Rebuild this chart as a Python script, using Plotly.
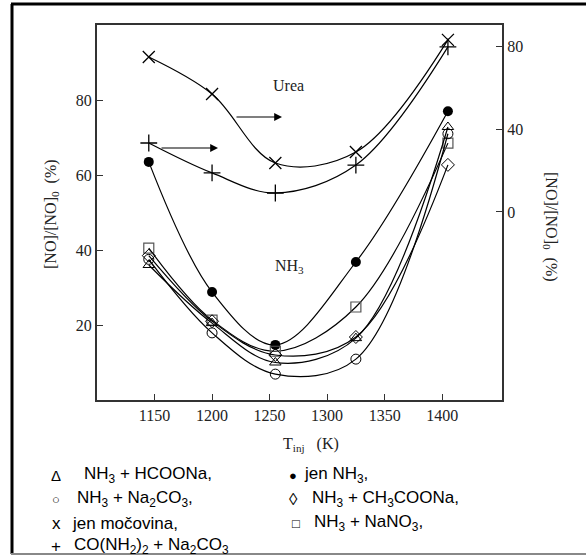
import plotly.graph_objects as go

# ---------------- data ----------------
T_inj = [1145, 1200, 1255, 1325, 1405]

# left axis series  [NO]/[NO]0 (%)
nh3_only = [63.5, 28.8, 14.7, 36.8, 77.0]        # filled circle
nh3_hcoona = [36.0, 20.5, 10.0, 16.5, 72.8]      # triangle
nh3_na2co3 = [37.5, 17.9, 6.9, 10.9, 71.0]       # open circle
nh3_ch3coona = [38.5, 21.0, 12.0, 16.8, 62.7]    # diamond
nh3_nano3 = [40.5, 21.3, 13.0, 24.8, 68.5]       # square

# right axis series
urea_only = [75.0, 57.1, 23.7, 29.0, 83.3]       # x
urea_na2co3 = [33.4, 18.9, 9.2, 22.7, 79.9]      # +

x_ticks = [1150, 1200, 1250, 1300, 1350, 1400]
y_left_ticks = [20, 40, 60, 80]
y_right_ticks = [0, 40, 80]

W, H = 586, 556
L, R, TOP, BOT = 97, 502, 25, 400


def xp(px):
    return (px - L) / (R - L)


def yp(py):
    return (BOT - py) / (BOT - TOP)


fig = go.Figure()

LW = 1.2
series = [
    (nh3_only, "y", dict(symbol="circle", size=10, color="black")),
    (nh3_nano3, "y", dict(symbol="square-open", size=10, color="#555", line=dict(width=1.2, color="#555"))),
    (nh3_ch3coona, "y", dict(symbol="diamond-open", size=10, color="black", line=dict(width=1, color="black"))),
    (nh3_hcoona, "y", dict(symbol="triangle-up-open", size=10, color="black", line=dict(width=1, color="black"))),
    (nh3_na2co3, "y", dict(symbol="circle-open", size=10, color="black", line=dict(width=1, color="black"))),
    (urea_only, "y2", dict(symbol="x-thin-open", size=12, color="black", line=dict(width=1.3, color="black"))),
    (urea_na2co3, "y2", dict(symbol="cross-thin-open", size=12, color="black", line=dict(width=1.3, color="black"))),
]
for vals, ax, mk in series:
    fig.add_trace(go.Scatter(
        x=T_inj, y=vals, yaxis=ax, mode="lines+markers",
        line=dict(color="black", width=LW, shape="spline", smoothing=1.0),
        marker=mk, showlegend=False, cliponaxis=False,
    ))

tickfont = dict(family="Liberation Serif", size=16, color="#222")
fig.update_layout(
    width=W, height=H,
    margin=dict(l=L, r=W - R, t=TOP, b=H - BOT),
    paper_bgcolor="white", plot_bgcolor="white",
    xaxis=dict(range=[1100, 1452], tickvals=x_ticks, ticks="inside", ticklen=6,
               tickcolor="#333", showline=True, linecolor="#333", linewidth=2,
               mirror=True, showgrid=False, zeroline=False, tickfont=tickfont),
    yaxis=dict(range=[0, 100], tickvals=y_left_ticks, ticks="inside", ticklen=6,
               tickcolor="#333", showline=True, linecolor="#333", linewidth=2,
               showgrid=False, zeroline=False, tickfont=tickfont),
    yaxis2=dict(range=[-91, 90.5], tickvals=y_right_ticks, ticks="inside", ticklen=6,
                tickcolor="#333", showline=True, linecolor="#333", linewidth=2,
                overlaying="y", side="right", showgrid=False, zeroline=False,
                tickfont=tickfont),
)

ann = []
serif = dict(family="Liberation Serif", size=16, color="#222")
# axis titles
ann.append(dict(x=xp(51), y=yp(214), xref="paper", yref="paper", showarrow=False,
                xanchor="center", yanchor="middle",
                text="[NO]/[NO]<sub>0</sub>  (%)", textangle=-90, font=serif))
ann.append(dict(x=xp(550), y=yp(227), xref="paper", yref="paper", showarrow=False,
                xanchor="center", yanchor="middle",
                text="[NO]/[NO]<sub>0</sub>  (%)", textangle=90, font=serif))
ann.append(dict(x=xp(311), y=yp(444), xref="paper", yref="paper", showarrow=False,
                xanchor="center", yanchor="middle",
                text="T<sub>inj</sub>   (K)", font=serif))
# inner labels
ann.append(dict(x=xp(288), y=yp(85), xref="paper", yref="paper", showarrow=False,
                xanchor="center", yanchor="middle", text="Urea", font=serif))
ann.append(dict(x=xp(289), y=yp(266), xref="paper", yref="paper", showarrow=False,
                xanchor="center", yanchor="middle", text="NH<sub>3</sub>", font=serif))
# arrows
for (x0, x1, yy) in [(235, 282, 117), (160, 218, 148)]:
    ann.append(dict(x=xp(x1), y=yp(yy), xref="paper", yref="paper",
                    ax=x0 - x1, ay=0, axref="pixel", ayref="pixel",
                    showarrow=True, arrowhead=2, arrowsize=1.3, arrowwidth=1.2,
                    arrowcolor="black", text=""))

# legend text block
sans = dict(family="Liberation Sans", size=17, color="black")
legend_items = [
    (56, 82, 475, "\u0394", "NH<sub>3</sub> + HCOONa,"),
    (56, 75, 499, "\u25cb", "NH<sub>3</sub> + Na<sub>2</sub>CO<sub>3</sub>,"),
    (56, 70, 523, "x", "jen močovina,"),
    (56, 72, 546, "+", "CO(NH<sub>2</sub>)<sub>2</sub> + Na<sub>2</sub>CO<sub>3</sub>"),
    (293, 302, 475, "\u25cf", "jen NH<sub>3</sub>,"),
    (293, 310, 499, "\u25ca", "NH<sub>3</sub> + CH<sub>3</sub>COONa,"),
    (296, 312, 523, "\u25a1", "NH<sub>3</sub> + NaNO<sub>3</sub>,"),
]
for sx, tx, yy, sym, txt in legend_items:
    sf = dict(sans)
    if sym in ("\u25cb", "\u25cf", "\u25a1"):
        sf["size"] = 13
    if sym == "\u0394":
        sf["size"] = 15
    ann.append(dict(x=xp(sx), y=yp(yy), xref="paper", yref="paper", showarrow=False,
                    text=sym, font=sf, xanchor="center", yanchor="middle"))
    ann.append(dict(x=xp(tx), y=yp(yy), xref="paper", yref="paper", showarrow=False,
                    text=txt, font=sans, xanchor="left", yanchor="middle"))
fig.update_layout(annotations=ann)

# outer frame
fig.update_layout(shapes=[
    dict(type="line", xref="paper", yref="paper", x0=xp(12), x1=xp(12), y0=yp(4), y1=yp(554),
         line=dict(color="black", width=3)),
    dict(type="line", xref="paper", yref="paper", x0=xp(11), x1=xp(590), y0=yp(4), y1=yp(4),
         line=dict(color="black", width=3)),
    dict(type="line", xref="paper", yref="paper", x0=xp(11), x1=xp(590), y0=yp(554), y1=yp(554),
         line=dict(color="#888", width=2)),
])

fig.write_html("out.html")
